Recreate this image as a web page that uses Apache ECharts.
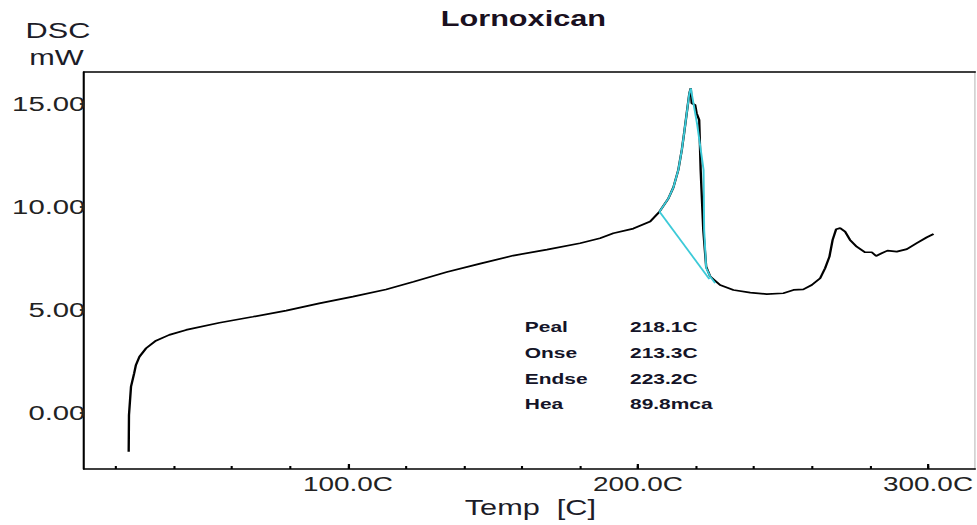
<!DOCTYPE html>
<html>
<head>
<meta charset="utf-8">
<script src="https://cdn.jsdelivr.net/npm/echarts@6/dist/echarts.min.js"></script>
<style>
  html, body { margin: 0; padding: 0; background: #fff; }
  #wrap { width: 977px; height: 525px; overflow: hidden; }
  /* the instrument export is wider than tall: draw at 700px and stretch horizontally */
  #chart { width: 700px; height: 525px; transform: scaleX(1.395714); transform-origin: 0 0; }
</style>
</head>
<body>
<div id="wrap"><div id="chart"></div></div>
<script>
// DSC heat-flow trace, temperature in C and heat flow in mW
const temp = [24.4, 24.5, 25.2, 26.3, 26.9, 28.1, 30.4, 33.8, 38.4, 44.2, 55.7, 67.2, 78.7, 90.1, 101.7,
  113.1, 122.6, 134.1, 145.6, 157.0, 168.6, 180.0, 186.9, 191.5, 198.4, 204.2, 207.4, 210.5, 212.2,
  213.9, 215.1, 215.9, 216.8, 217.7, 218.2, 218.5, 219.7, 220.2, 221.1, 221.6, 222.5, 223.5, 224.9,
  228.3, 232.9, 238.7, 244.4, 250.1, 253.6, 257.0, 259.9, 262.8, 264.5, 266.0, 267.1, 268.3, 269.7,
  271.4, 273.1, 275.4, 278.3, 280.6, 282.1, 284.0, 286.0, 289.2, 292.7, 296.1, 299.6, 301.9];
const dsc = [-1.88, -0.10, 1.28, 1.93, 2.33, 2.73, 3.14, 3.51, 3.79, 4.03, 4.38, 4.67, 4.97, 5.32, 5.65,
  5.99, 6.37, 6.84, 7.25, 7.64, 7.93, 8.24, 8.48, 8.72, 8.95, 9.29, 9.77, 10.42, 10.95,
  11.80, 12.77, 13.58, 14.55, 15.52, 15.76, 15.03, 14.95, 14.55, 14.22, 11.80, 8.88, 7.10, 6.62,
  6.21, 5.97, 5.84, 5.77, 5.81, 5.97, 6.00, 6.21, 6.54, 7.02, 7.59, 8.40, 8.92, 8.97,
  8.80, 8.40, 8.07, 7.80, 7.80, 7.62, 7.75, 7.88, 7.83, 7.95, 8.24, 8.53, 8.69];

// peak analysis construction: leading edge to the peak and back down to the end point
const edgeTemp = [207.4, 210.5, 212.2, 213.9, 215.1, 215.9, 216.8, 217.7, 218.2, 220.4, 222.6, 222.8, 223.5, 224.9, 226.6];
const edgeDsc  = [9.77, 10.42, 10.95, 11.80, 12.77, 13.58, 14.55, 15.52, 15.76, 14.00, 11.80, 8.90, 7.04, 6.62, 6.30];
// interpolated baseline under the peak
const baseTemp = [207.4, 224.6];
const baseDsc  = [9.77, 6.50];

const xMinorTicks = [20, 40, 60, 80, 100, 120, 140, 160, 180, 200, 220, 240, 260, 280, 300];
const xMajorTicks = [100, 200, 300];
const xTickLabels = ['100.0C', '200.0C', '300.0C'];
const yTicks = [0, 5, 10, 15];
const yTickLabels = ['0.00', '5.00', '10.00', '15.00'];

const resultNames  = ['Peal', 'Onse', 'Endse', 'Hea'];
const resultValues = ['218.1C', '213.3C', '223.2C', '89.8mca'];

const pairs = (xs, ys) => xs.map((x, i) => [x, ys[i]]);

const FONT = '"Liberation Sans", Arial, sans-serif';
const X_MIN = 9, X_MAX = 316.2, Y_MIN = -2.72, Y_MAX = 16.55;

const chart = echarts.init(document.getElementById('chart'), null, { renderer: 'svg' });

const graphics = [
  { type: 'text', x: 375, y: 19, style: { text: 'Lornoxican', font: 'bold 22px ' + FONT, fill: '#1a1020', textAlign: 'center', textVerticalAlign: 'middle' } },
  { type: 'text', x: 41.5, y: 31, style: { text: 'DSC', font: '22px ' + FONT, fill: '#1c1c28', textAlign: 'center', textVerticalAlign: 'middle' } },
  { type: 'text', x: 40.5, y: 58, style: { text: 'mW', font: '22px ' + FONT, fill: '#1c1c28', textAlign: 'center', textVerticalAlign: 'middle' } },
  { type: 'text', x: 380, y: 508, style: { text: 'Temp  [C]', font: '22px ' + FONT, fill: '#1c1c28', textAlign: 'center', textVerticalAlign: 'middle' } }
];
const rowY = [327, 353, 379, 404];
resultNames.forEach((name, i) => {
  graphics.push({ type: 'text', x: 376, y: rowY[i], style: { text: name, font: 'bold 15px ' + FONT, fill: '#141428', textVerticalAlign: 'middle' } });
  graphics.push({ type: 'text', x: 451.4, y: rowY[i], style: { text: resultValues[i], font: 'bold 15px ' + FONT, fill: '#141428', textVerticalAlign: 'middle' } });
});

const noZero = { onZero: false };

chart.setOption({
  backgroundColor: '#fff',
  animation: false,
  grid: { left: 60.2, right: 1.4, top: 72, bottom: 56, containLabel: false, outerBoundsMode: 'none' },
  xAxis: [
    {
      type: 'value', min: X_MIN, max: X_MAX, position: 'bottom',
      axisLine: Object.assign({ show: true, lineStyle: { color: '#000', width: 1.6 } }, noZero),
      splitLine: { show: false },
      axisTick: { show: true, inside: true, length: 3, customValues: xMinorTicks, lineStyle: { color: '#000', width: 1.5 } },
      axisLabel: {
        show: true, customValues: xMajorTicks, margin: 5,
        fontFamily: FONT, fontSize: 20, color: '#222',
        formatter: v => xTickLabels[xMajorTicks.indexOf(Math.round(v))]
      }
    },
    {
      // longer ticks at the labelled temperatures
      type: 'value', min: X_MIN, max: X_MAX, position: 'bottom',
      axisLine: Object.assign({ show: false }, noZero), splitLine: { show: false }, axisLabel: { show: false },
      axisTick: { show: true, inside: true, length: 5, customValues: xMajorTicks, lineStyle: { color: '#000', width: 1.6 } }
    },
    {
      type: 'value', min: X_MIN, max: X_MAX, position: 'top',
      axisLine: Object.assign({ show: true, lineStyle: { color: '#000', width: 1.6 } }, noZero),
      splitLine: { show: false }, axisTick: { show: false }, axisLabel: { show: false }
    }
  ],
  yAxis: [
    {
      type: 'value', min: Y_MIN, max: Y_MAX, position: 'left',
      axisLine: Object.assign({ show: true, lineStyle: { color: '#000', width: 1.5 } }, noZero),
      splitLine: { show: false },
      axisTick: { show: true, inside: false, length: 3, customValues: yTicks, lineStyle: { color: '#000', width: 1.5 } },
      axisLabel: {
        show: true, customValues: yTicks, margin: -1,
        fontFamily: FONT, fontSize: 21, color: '#222',
        formatter: v => yTickLabels[yTicks.indexOf(Math.round(v))]
      }
    },
    {
      type: 'value', min: Y_MIN, max: Y_MAX, position: 'right',
      axisLine: Object.assign({ show: true, lineStyle: { color: '#c8c8c8', width: 1 } }, noZero),
      splitLine: { show: false }, axisTick: { show: false }, axisLabel: { show: false }
    }
  ],
  graphic: graphics,
  series: [
    {
      type: 'line', name: 'DSC', data: pairs(temp, dsc), xAxisIndex: 0, yAxisIndex: 0,
      showSymbol: false, smooth: false,
      lineStyle: { color: '#000', width: 1.7 }
    },
    {
      type: 'line', name: 'peak', data: pairs(edgeTemp, edgeDsc), xAxisIndex: 0, yAxisIndex: 0,
      showSymbol: false, lineStyle: { color: '#3ccad8', width: 1.4 }
    },
    {
      type: 'line', name: 'baseline', data: pairs(baseTemp, baseDsc), xAxisIndex: 0, yAxisIndex: 0,
      showSymbol: false, lineStyle: { color: '#3ccad8', width: 1.4 }
    }
  ]
});
</script>
</body>
</html>
